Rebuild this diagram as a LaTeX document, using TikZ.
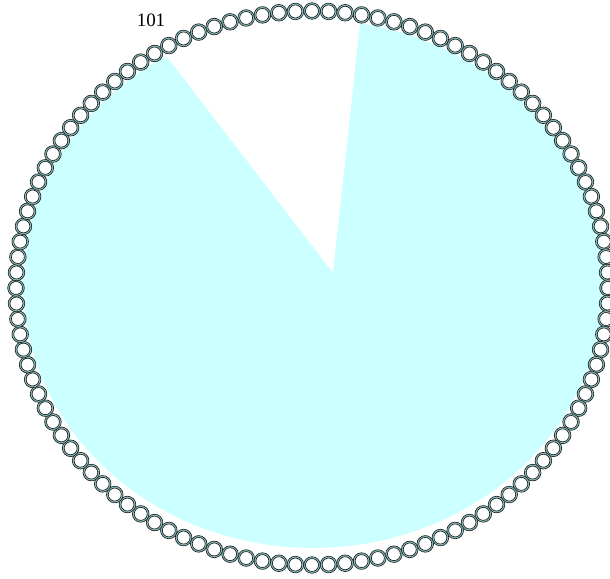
\documentclass[tikz,border=0pt]{standalone}
\usepackage{fontspec}
\setmainfont{Liberation Serif}
\usepackage{tikz}
\usetikzlibrary{calc}

\definecolor{piefill}{RGB}{204,255,255}
\definecolor{beadband}{RGB}{140,205,205}

\begin{document}
\begin{tikzpicture}[
  x=0.02cm, y=0.02cm,
  sector/.style={fill=piefill, draw=none},
  bead/.style={draw=black!85, line width=0.4pt, fill=beadband, even odd rule},
  lbl/.style={font=\fontsize{10.8}{12}\selectfont, inner sep=0pt},
]
\useasboundingbox (0,0) rectangle (610,579);

% === filled sector (gap at the top) ===
\coordinate (apex) at (333,306);
\coordinate (mid) at (313,295);
\fill[sector] (apex) -- ($(mid)+(80.68:5.8cm and 5.28cm)$)
  arc[start angle=80.68, end angle=-239.65, x radius=5.8cm, y radius=5.28cm]
  -- cycle;

% === ring of beads ===
\foreach \k in {0,...,111} {
  \pgfmathsetmacro{\ang}{90-\k*(360/112)}
  \draw[bead] ({312+296*cos(\ang)},{291+277*sin(\ang)}) circle[radius=0.166cm]
    circle[radius=0.13cm];
}

% Label
\node[lbl] (num) at (151,559) {101};

\end{tikzpicture}
\end{document}
